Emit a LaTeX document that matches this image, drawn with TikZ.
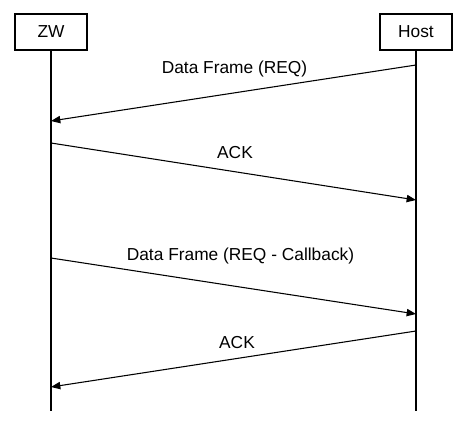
\documentclass[tikz,border=0pt]{standalone}
\usepackage{fontspec}
\setmainfont{Liberation Sans}
\usetikzlibrary{arrows.meta}

\tikzset{
  party/.style={draw, line width=0.8pt, minimum width=54pt, minimum height=27pt, inner sep=0pt},
  lifeline/.style={line width=0.8pt},
  msg/.style={line width=0.8pt, -{Triangle[length=7pt, width=5.5pt]}},
}

\begin{document}
\begin{tikzpicture}[x=0.75pt, y=-0.75pt, font=\fontsize{13}{15}\selectfont]
        \useasboundingbox (0,0) rectangle (469,433);

        % Participants
        \node[party] (zw) at (51, 32) {ZW};
        \node[party] (host) at (416, 32) {Host};

        % Lifelines
        \coordinate (zwend) at (51, 411);
        \coordinate (hostend) at (416, 411);
        \draw[lifeline] (zw) -- (zwend);
        \draw[lifeline] (host) -- (hostend);

        % Points on the lifelines
        \coordinate (h1) at (416, 65);
        \coordinate (z1) at (51, 121);
        \coordinate (z2) at (51, 143);
        \coordinate (h2) at (416, 200);
        \coordinate (z3) at (51, 258);
        \coordinate (h3) at (416, 314);
        \coordinate (h4) at (416, 331);
        \coordinate (z4) at (51, 387);

        % Messages
        \draw[msg] (h1) -- (z1);
        \draw[msg] (z2) -- (h2);
        \draw[msg] (z3) -- (h3);
        \draw[msg] (h4) -- (z4);

        \node (req) at (234.5, 69) {Data Frame (REQ)};
        \node (ack1) at (235, 153) {ACK};
        \node (reqcb) at (240.5, 256) {Data Frame (REQ - Callback)};
        \node (ack2) at (237, 343) {ACK};
    \end{tikzpicture}
\end{document}
